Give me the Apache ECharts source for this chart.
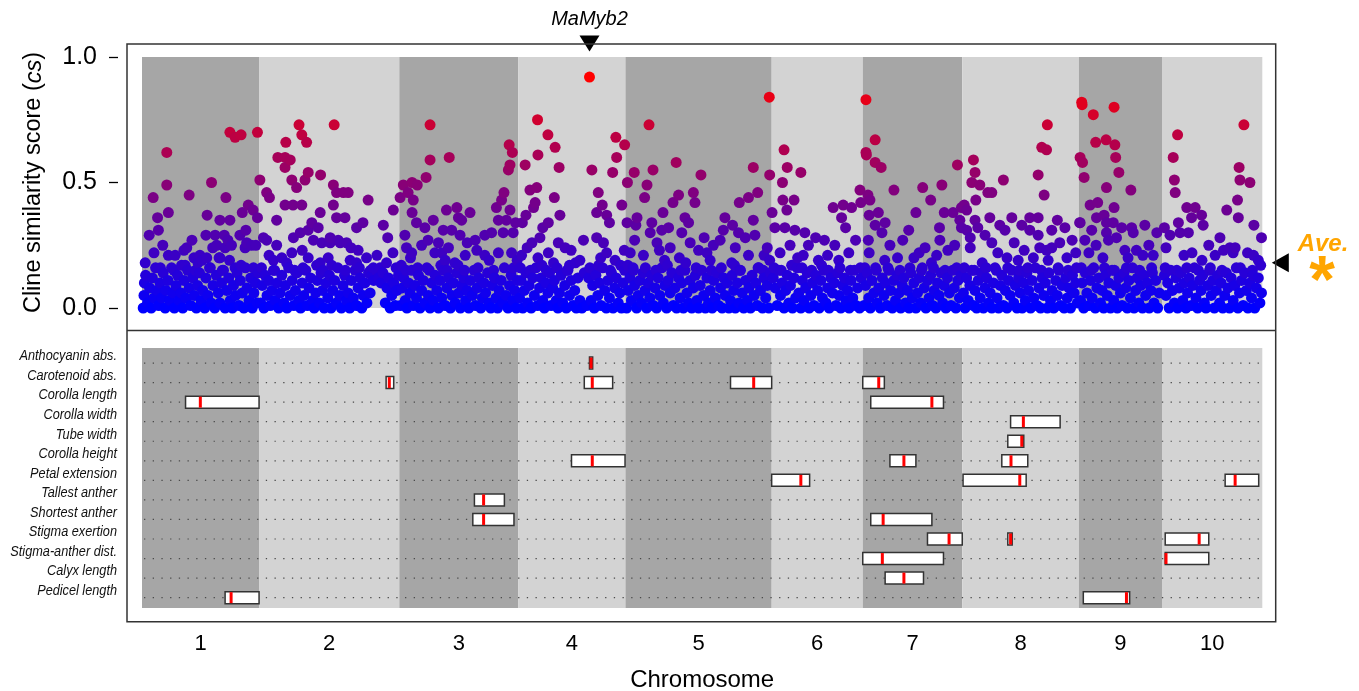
<!DOCTYPE html>
<html>
<head>
<meta charset="utf-8">
<script src="https://cdn.jsdelivr.net/npm/echarts@6/dist/echarts.min.js"></script>
<style>
  html, body { margin: 0; padding: 0; background: #fff; }
  #chart { width: 1359px; height: 691px; }
</style>
</head>
<body>
<div id="chart"></div>
<script>
// ---- Data ---------------------------------------------------------------
const chromosomes = ['1', '2', '3', '4', '5', '6', '7', '8', '9', '10'];
const chromLengthMb = [29.3, 35.1, 29.8, 26.8, 36.6, 22.8, 24.9, 29.2, 20.8, 25.1];

// Cline similarity score per marker: [position within chromosome (Mb), cs]
const chr1Scores = [
  [6.2,.62],[22,.70],[23.3,.68],[24.8,.69],[28.9,.70],[6.2,.49],[2.8,.44],[11.8,.45],[17.4,.50],[21,.44],
  [3.9,.36],[6.6,.38],[4.1,.31],[1.8,.29],[5.2,.25],[16.3,.37],[19.5,.35],[22,.35],[25.1,.38],[26.6,.41],
  [27.8,.39],[28.9,.36],[16,.29],[18.3,.29],[20.6,.29],[24.5,.29],[11.2,.24],[6.6,.21],[8.3,.21],[14.5,.21],
  [18.7,.25],[22.4,.25],[25.8,.24],[27.4,.25],[19.3,.20],[9.9,.17],[14,.18],[16.2,.20],[23.3,.16],[28.5,.25],
  [12.5,.27],[26,.31],[21.5,.27],[3,.22],[10.5,.23],[26.2,.26],[19.5,.20],[17.7,.24],[13,.20],[20.8,.24],
  [0.8,.18],[4.6,.16],[8.0,.15],[10.8,.17],[13.4,.15],[15.0,.19],[17.1,.16],[20.1,.15],[21.9,.19],[24.8,.17],
  [27.9,.16],
  [0.3,.00],[0.5,.05],[0.6,.10],[0.9,.13],[1.4,.02],[1.9,.08],[2.3,.00],[2.6,.12],[3.0,.04],[3.4,.16],
  [3.7,.07],[4.2,.01],[4.5,.10],[4.9,.04],[5.3,.14],[5.8,.00],[6.0,.07],[6.5,.11],[6.9,.03],[7.4,.16],
  [7.7,.06],[8.1,.00],[8.5,.09],[8.9,.13],[9.3,.03],[9.8,.06],[10.2,.00],[10.5,.11],[11.0,.04],[11.4,.15],
  [11.8,.08],[12.2,.01],[12.7,.12],[13.1,.05],[13.6,.00],[13.9,.09],[14.4,.14],[14.8,.03],[15.2,.07],[15.7,.00],
  [16.0,.12],[16.5,.05],[16.9,.16],[17.3,.02],[17.8,.09],[18.2,.00],[18.6,.13],[19.1,.06],[19.5,.02],[19.9,.10],
  [20.4,.15],[20.8,.00],[21.2,.07],[21.7,.12],[22.1,.03],[22.6,.00],[22.9,.09],[23.4,.05],[23.8,.14],[24.3,.01],
  [24.6,.11],[25.1,.06],[25.5,.00],[25.9,.16],[26.3,.08],[26.8,.03],[27.2,.12],[27.6,.00],[28.0,.06],[28.4,.10],
  [28.8,.02],[29.1,.14]
];
const chr2Scores = [
  [10,.73],[18.8,.73],[10.7,.69],[11.9,.66],[6.7,.66],[4.7,.60],[6.5,.60],[7.8,.59],[6.5,.56],[8.2,.51],
  [11.5,.51],[12.3,.54],[15.4,.53],[0.2,.51],[1.9,.46],[2.6,.44],[4.4,.35],[6.5,.41],[8.5,.41],[10.7,.41],
  [9.4,.48],[18.6,.49],[19.4,.46],[21.1,.46],[22.3,.46],[18.6,.41],[27.3,.43],[15.3,.38],[13.2,.34],[14.8,.32],
  [12.3,.31],[19.4,.36],[21.5,.36],[24.4,.32],[26,.34],[31.1,.33],[32.2,.28],[8.6,.28],[10.3,.30],[13.6,.27],
  [15.7,.26],[17.8,.26],[19.8,.27],[21.9,.26],[24.8,.23],[26.9,.20],[4.4,.25],[1.9,.27],[1.1,.28],[8.2,.22],
  [5.7,.20],[3.6,.19],[28.6,.16],[30.3,.16],[31.9,.18],[12.3,.20],[15.3,.18],[17.3,.20],[22.8,.19],[24.4,.18],
  [33.6,.39],[17.8,.28],[20.3,.26],[23,.24],[29.5,.21],[33.5,.22],[2.5,.21],[10.8,.23],
  [0.6,.16],[3.9,.15],[6.9,.18],[8.9,.15],[11.0,.16],[14.4,.17],[16.1,.15],[18.2,.17],[21.6,.15],[25.1,.16],
  [27.9,.15],[34.3,.16],
  [0.4,.02],[0.8,.09],[1.2,.00],[1.5,.13],[2.0,.05],[2.4,.11],[2.8,.01],[3.2,.07],[3.6,.15],[4.0,.03],
  [4.5,.10],[4.9,.00],[5.3,.06],[5.7,.13],[6.2,.02],[6.6,.09],[7.0,.00],[7.4,.16],[7.8,.05],[8.3,.11],
  [8.7,.01],[9.1,.07],[9.5,.14],[10.0,.03],[10.4,.00],[10.8,.10],[11.2,.05],[11.7,.15],[12.1,.01],[12.5,.08],
  [12.9,.12],[13.4,.03],[13.8,.00],[14.2,.06],[14.6,.11],[15.1,.02],[15.5,.14],[15.9,.07],[16.3,.00],[16.8,.10],
  [17.2,.04],[17.6,.13],[18.0,.00],[18.5,.07],[18.9,.11],[19.3,.02],[19.7,.16],[20.2,.05],[20.6,.00],[21.0,.09],
  [21.4,.13],[21.9,.03],[22.3,.06],[22.7,.00],[23.1,.11],[23.6,.04],[24.0,.15],[24.4,.01],[24.8,.08],[25.3,.12],
  [25.7,.00],[26.1,.05],[26.5,.10],[27.0,.02],[27.4,.14],[27.8,.06],[28.2,.13],[28.7,.11],[29.3,.15],[29.9,.12],
  [30.5,.10],[31.0,.14],[31.6,.02],[32.0,.08],[32.4,.12],[32.8,.00],[33.2,.05],[33.7,.10],[34.1,.01],[34.5,.07],
  [34.9,.13]
];
const chr3Scores = [
  [7.7,.73],[12.5,.60],[7.7,.59],[6.7,.52],[3.2,.50],[4.5,.49],[1,.49],[2.2,.46],[0.2,.44],[3.5,.43],
  [3.2,.38],[8.5,.35],[4.3,.34],[6.4,.32],[11.8,.39],[14.4,.40],[11,.31],[13.1,.31],[14.8,.36],[17.7,.38],
  [15.6,.35],[15.2,.29],[27.5,.65],[28.3,.62],[27.7,.57],[27.3,.55],[26.2,.46],[25.6,.43],[24.3,.40],[27.7,.39],
  [24.8,.35],[26.8,.35],[29.1,.34],[26,.30],[28.5,.30],[21.4,.29],[23.1,.30],[19.4,.23],[21.4,.21],[24.8,.22],
  [28.1,.22],[7.2,.27],[5.6,.25],[1.4,.29],[1.8,.24],[3.1,.22],[8.9,.22],[10.6,.22],[12.3,.24],[13.9,.18],
  [17,.26],[19,.27],[2.8,.20],[11.5,.19],[22.5,.19],[16.5,.21],[9.8,.26],
  [0.5,.17],[1.7,.15],[4.6,.16],[7.5,.15],[10.4,.17],[12.0,.15],[14.7,.17],[16.3,.15],[19.7,.16],[23.6,.15],
  [28.6,.16],[29.5,.19],
  [0.3,.01],[0.7,.08],[1.1,.12],[1.5,.03],[1.9,.00],[2.3,.10],[2.7,.06],[3.1,.15],[3.5,.01],[3.9,.09],
  [4.3,.04],[4.8,.13],[5.2,.00],[5.6,.07],[6.0,.11],[6.4,.02],[6.9,.16],[7.3,.05],[7.7,.00],[8.1,.10],
  [8.5,.03],[9.0,.13],[9.4,.07],[9.8,.00],[10.2,.11],[10.6,.04],[11.1,.15],[11.5,.01],[11.9,.08],[12.3,.12],
  [12.8,.00],[13.2,.05],[13.6,.10],[14.0,.02],[14.4,.14],[14.9,.06],[15.3,.00],[15.7,.09],[16.1,.12],[16.6,.03],
  [17.0,.07],[17.4,.00],[17.8,.11],[18.3,.05],[18.7,.15],[19.1,.01],[19.5,.08],[19.9,.12],[20.4,.00],[20.8,.04],
  [21.2,.10],[21.6,.06],[22.1,.14],[22.5,.02],[22.9,.00],[23.3,.09],[23.8,.12],[24.2,.04],[24.6,.00],[25.0,.07],
  [25.5,.11],[25.9,.02],[26.3,.16],[26.7,.05],[27.2,.00],[27.6,.09],[28.0,.13],[28.4,.03],[28.9,.07],[29.3,.00],
  [29.6,.11]
];
const chr4Scores = [
  [17.8,.92],[4.8,.75],[7.4,.69],[9.2,.64],[4.9,.61],[1.7,.57],[10.2,.56],[24.4,.68],[26.6,.65],[24.6,.60],
  [18.4,.55],[23.6,.54],[2.9,.47],[4.6,.48],[4.2,.42],[3.8,.40],[9,.44],[10.4,.37],[1.9,.37],[1,.34],
  [6.1,.32],[7.5,.34],[20,.46],[21,.41],[19.6,.38],[22.1,.37],[22.8,.34],[25.9,.41],[16.3,.27],[19.6,.28],
  [21.3,.26],[3.4,.26],[5.4,.28],[7.5,.22],[10,.26],[11.7,.24],[4.9,.20],[15.4,.19],[17.9,.16],[22.1,.22],
  [24.2,.19],[26.5,.23],[13.2,.23],[8.8,.18],[0.8,.21],[12.8,.17],[2.2,.24],[20.6,.20],
  [0.5,.16],[3.0,.15],[5.9,.17],[7.0,.15],[9.7,.16],[12.2,.15],[14.3,.18],[18.9,.15],[20.1,.17],[23.0,.15],
  [25.6,.17],
  [0.3,.04],[0.7,.11],[1.1,.00],[1.5,.07],[1.9,.14],[2.3,.02],[2.7,.09],[3.2,.00],[3.6,.12],[4.0,.05],
  [4.4,.16],[4.8,.01],[5.3,.08],[5.7,.12],[6.1,.03],[6.5,.00],[6.9,.10],[7.4,.06],[7.8,.14],[8.2,.01],
  [8.6,.08],[9.0,.11],[9.5,.03],[9.9,.00],[10.3,.06],[10.7,.13],[11.1,.02],[11.6,.09],[12.0,.00],[12.4,.15],
  [12.8,.05],[13.2,.11],[13.7,.01],[14.1,.07],[14.5,.00],[14.9,.12],[15.4,.03],[15.9,.00],[16.5,.14],[17.1,.01],
  [17.6,.12],[18.2,.03],[18.6,.09],[19.0,.00],[19.4,.13],[19.9,.05],[20.3,.10],[20.7,.01],[21.1,.16],[21.6,.07],
  [22.0,.00],[22.4,.11],[22.8,.04],[23.3,.14],[23.7,.00],[24.1,.08],[24.5,.12],[25.0,.02],[25.4,.06],[25.8,.00],
  [26.2,.10],[26.6,.15]
];
const chr5Scores = [
  [5.9,.73],[2.2,.54],[6.9,.55],[0.5,.50],[5.4,.49],[4.8,.44],[12.7,.58],[18.9,.53],[17,.46],[13.3,.45],
  [11.9,.42],[17.4,.42],[9.4,.38],[2.9,.36],[0.4,.34],[2.6,.33],[6.6,.34],[6.2,.30],[9.1,.31],[10.8,.32],
  [14.9,.36],[15.8,.34],[14.1,.30],[19.7,.28],[2.3,.27],[7.9,.26],[11.2,.24],[16.2,.26],[18.3,.23],[36,.84],
  [32,.56],[36.1,.53],[33.1,.46],[30.8,.44],[28.5,.42],[32,.35],[24.9,.36],[26.8,.33],[24.5,.31],[23.7,.27],
  [28.3,.30],[30,.28],[32.4,.29],[20.4,.22],[30.8,.21],[34.7,.21],[26.6,.18],[22,.25],[13.5,.20],[4.5,.21],
  [9.8,.19],[35.5,.24],[21.2,.19],[1.2,.22],[8.5,.23],[27.5,.24],
  [0.6,.17],[2.0,.15],[5.0,.16],[7.6,.15],[10.5,.17],[13.9,.15],[15.1,.18],[17.7,.16],[21.5,.15],[24.0,.16],
  [27.3,.17],[28.6,.15],[33.2,.16],[34.5,.15],[36.1,.19],
  [0.3,.00],[0.7,.07],[1.1,.12],[1.5,.03],[1.9,.16],[2.3,.09],[2.8,.00],[3.2,.05],[3.6,.11],[4.0,.02],
  [4.4,.14],[4.9,.07],[5.3,.00],[5.7,.10],[6.1,.04],[6.5,.13],[7.0,.01],[7.4,.08],[7.8,.00],[8.2,.12],
  [8.6,.05],[9.1,.16],[9.5,.02],[9.9,.09],[10.3,.00],[10.7,.11],[11.2,.06],[11.6,.14],[12.0,.01],[12.4,.08],
  [12.8,.00],[13.3,.12],[13.7,.04],[14.1,.10],[14.5,.00],[14.9,.15],[15.4,.06],[15.8,.02],[16.2,.11],[16.6,.00],
  [17.0,.08],[17.5,.13],[17.9,.03],[18.3,.00],[18.7,.09],[19.1,.15],[19.6,.05],[20.0,.00],[20.4,.12],[20.8,.02],
  [21.2,.07],[21.7,.00],[22.1,.11],[22.5,.04],[22.9,.14],[23.3,.01],[23.8,.08],[24.2,.00],[24.6,.12],[25.0,.05],
  [25.4,.10],[25.9,.00],[26.3,.03],[26.7,.13],[27.1,.07],[27.5,.00],[28.0,.10],[28.4,.02],[28.8,.15],[29.2,.06],
  [29.6,.00],[30.1,.11],[30.5,.03],[30.9,.08],[31.3,.00],[31.7,.13],[32.2,.05],[32.6,.10],[33.0,.01],[33.4,.16],
  [33.8,.07],[34.3,.00],[34.7,.12],[35.1,.04],[35.5,.09],[35.9,.00],[36.3,.14]
];
const chr6Scores = [
  [3.1,.63],[3.9,.56],[7.3,.54],[2.7,.50],[2.8,.43],[5.6,.43],[3.8,.39],[0.1,.38],[0.8,.32],[3.3,.32],
  [5.8,.31],[8.3,.30],[15.4,.40],[17.9,.41],[20,.40],[17.5,.36],[18.5,.32],[15.8,.25],[4.6,.25],[9.2,.25],
  [11.7,.19],[7.9,.21],[2.1,.22],[22.1,.47],[22.3,.42],[13.2,.27],[19.3,.22],[21,.27],[11,.28],[14,.21],
  [6.5,.20],[16.8,.19],
  [0.6,.16],[2.4,.15],[5.0,.17],[7.6,.16],[10.0,.15],[12.5,.17],[14.2,.15],[17.1,.16],[19.7,.15],[22.2,.16],
  [0.4,.12],[0.9,.08],[1.4,.01],[1.8,.15],[2.2,.05],[2.6,.10],[3.1,.00],[3.5,.07],[3.9,.13],[4.3,.02],
  [4.7,.09],[5.2,.00],[5.6,.12],[6.0,.04],[6.4,.16],[6.8,.06],[7.3,.00],[7.7,.11],[8.1,.03],[8.5,.08],
  [8.9,.14],[9.4,.00],[9.8,.05],[10.2,.10],[10.6,.01],[11.0,.13],[11.5,.07],[11.9,.00],[12.3,.11],[12.7,.04],
  [13.1,.15],[13.6,.02],[14.0,.08],[14.4,.00],[14.8,.12],[15.2,.06],[15.7,.10],[16.1,.01],[16.5,.14],[16.9,.05],
  [17.3,.00],[17.8,.09],[18.2,.12],[18.6,.03],[19.0,.07],[19.4,.00],[19.9,.11],[20.3,.04],[20.7,.15],[21.1,.01],
  [21.5,.08],[22.0,.00],[22.4,.12]
];
const chr7Scores = [
  [0.8,.83],[3.1,.67],[0.8,.62],[0.9,.61],[3.1,.58],[4.6,.56],[1.3,.45],[1.8,.43],[7.8,.47],[1.6,.37],
  [3.9,.38],[5.6,.34],[3.1,.33],[4.8,.30],[1.4,.27],[1.6,.22],[23.7,.57],[15,.48],[17,.43],[19.8,.49],
  [13.3,.38],[20.4,.38],[22.6,.38],[24.7,.40],[19.2,.32],[24.3,.35],[24.7,.32],[19.3,.27],[15.6,.24],[12.8,.20],
  [18.5,.21],[21.3,.23],[6.8,.25],[10,.27],[8.7,.20],[11.5,.31],[23,.25],[14.1,.22],[5.5,.19],[17.2,.18],
  [0.5,.16],[3.4,.15],[6.3,.16],[9.3,.15],[11.8,.16],[14.7,.15],[17.7,.16],[20.6,.15],[23.5,.16],
  [0.3,.01],[0.7,.09],[1.1,.14],[1.5,.04],[1.9,.00],[2.3,.11],[2.8,.06],[3.2,.16],[3.6,.02],[4.0,.08],
  [4.4,.00],[4.9,.12],[5.3,.05],[5.7,.10],[6.1,.01],[6.5,.15],[7.0,.07],[7.4,.00],[7.8,.11],[8.2,.03],
  [8.6,.13],[9.1,.06],[9.5,.00],[9.9,.09],[10.3,.12],[10.7,.02],[11.2,.07],[11.6,.00],[12.0,.14],[12.4,.04],
  [12.8,.10],[13.3,.00],[13.7,.06],[14.1,.12],[14.5,.02],[14.9,.16],[15.4,.08],[15.8,.00],[16.2,.11],[16.6,.04],
  [17.0,.13],[17.5,.01],[17.9,.07],[18.3,.00],[18.7,.10],[19.1,.05],[19.6,.14],[20.0,.02],[20.4,.09],[20.8,.00],
  [21.2,.12],[21.7,.06],[22.1,.01],[22.5,.15],[22.9,.08],[23.3,.00],[23.8,.11],[24.2,.04],[24.6,.13]
];
const chr8Scores = [
  [2.8,.59],[3.2,.54],[2.4,.50],[4.4,.49],[6.4,.46],[7.4,.46],[3.4,.43],[10.3,.51],[0.5,.41],[1.1,.39],
  [1.1,.31],[3.2,.35],[3.9,.32],[6.9,.36],[9.4,.33],[10.7,.31],[12.4,.36],[14.9,.33],[16.9,.36],[19,.36],
  [16.9,.31],[5.7,.29],[7.4,.26],[2,.28],[2,.24],[19,.53],[20.5,.45],[21.3,.73],[19.9,.64],[21.1,.63],
  [23.8,.35],[25.7,.32],[22.4,.31],[19,.29],[22.4,.24],[24.4,.26],[21.1,.23],[19.4,.24],[13,.26],[15.5,.23],
  [8.9,.22],[11.2,.20],[27.5,.27],[28.4,.22],[17.8,.20],[5,.18],[26.2,.20],[14,.19],
  [0.5,.16],[3.0,.15],[6.0,.16],[8.5,.15],[11.4,.16],[14.3,.15],[16.4,.16],[19.8,.15],[21.5,.19],[24.0,.16],
  [26.5,.15],[28.6,.16],
  [0.3,.06],[0.7,.00],[1.1,.12],[1.5,.03],[1.9,.09],[2.4,.15],[2.8,.01],[3.2,.07],[3.6,.00],[4.0,.11],
  [4.5,.04],[4.9,.14],[5.3,.00],[5.7,.08],[6.1,.12],[6.6,.02],[7.0,.06],[7.4,.00],[7.8,.10],[8.2,.16],
  [8.7,.04],[9.1,.00],[9.5,.09],[9.9,.13],[10.3,.01],[10.8,.07],[11.2,.00],[11.6,.11],[12.0,.05],[12.4,.15],
  [12.9,.02],[13.3,.09],[13.7,.00],[14.1,.12],[14.5,.06],[15.0,.00],[15.4,.10],[15.8,.03],[16.2,.14],[16.6,.07],
  [17.1,.00],[17.5,.11],[17.9,.04],[18.3,.16],[18.7,.01],[19.2,.08],[19.6,.00],[20.0,.12],[20.4,.05],[20.8,.10],
  [21.3,.00],[21.7,.14],[22.1,.03],[22.5,.07],[22.9,.00],[23.4,.11],[23.8,.05],[24.2,.15],[24.6,.01],[25.0,.09],
  [25.5,.00],[25.9,.12],[26.3,.04],[26.7,.08],[27.1,.00],[27.6,.13],[28.0,.06],[28.4,.10],[28.8,.02]
];
const chr9Scores = [
  [0.7,.82],[0.8,.81],[3.6,.77],[8.8,.80],[4.2,.66],[6.8,.67],[9,.65],[0.3,.60],[0.9,.58],[9.2,.60],
  [10,.54],[1.3,.52],[6.9,.48],[13,.47],[2.8,.41],[4.7,.42],[8.8,.40],[4.4,.36],[6.3,.37],[6.9,.34],
  [8.6,.34],[10.7,.32],[0.3,.34],[3.2,.31],[6.9,.30],[13.6,.30],[16.5,.33],[13.2,.32],[9.4,.28],[1.5,.27],
  [4.3,.25],[7.4,.27],[18.6,.21],[14.4,.23],[16,.21],[11.5,.23],[2.5,.22],[6,.20],[19.5,.30],[12.3,.20],
  [0.2,.34],[17.5,.25],
  [0.6,.16],[3.1,.15],[6.4,.16],[8.9,.15],[11.9,.16],[15.2,.15],[18.2,.16],
  [0.4,.03],[0.8,.10],[1.2,.00],[1.6,.14],[2.0,.06],[2.5,.01],[2.9,.11],[3.3,.04],[3.7,.16],[4.1,.00],
  [4.5,.08],[5.0,.12],[5.4,.02],[5.8,.07],[6.2,.00],[6.6,.13],[7.1,.05],[7.5,.10],[7.9,.00],[8.3,.15],
  [8.7,.03],[9.2,.09],[9.6,.00],[10.0,.12],[10.4,.06],[10.8,.01],[11.3,.14],[11.7,.08],[12.1,.00],[12.5,.11],
  [12.9,.04],[13.4,.16],[13.8,.00],[14.2,.07],[14.6,.12],[15.0,.02],[15.5,.09],[15.9,.00],[16.3,.13],[16.7,.05],
  [17.1,.10],[17.6,.00],[18.0,.07],[18.4,.14],[18.8,.02],[19.2,.11],[19.7,.00],[20.1,.06]
];
const chr10Scores = [
  [3.9,.69],[20.5,.73],[2.8,.60],[3.1,.51],[3.3,.46],[19.3,.56],[19.5,.51],[22,.50],[18.9,.43],[16.2,.39],
  [19.1,.36],[23,.33],[24.9,.28],[6.2,.40],[8.3,.40],[9.9,.37],[7.4,.36],[10.3,.33],[4.1,.34],[6.6,.30],
  [0.6,.32],[2,.29],[4.5,.30],[17,.24],[18.3,.24],[15.4,.23],[17.8,.22],[21.4,.22],[22.9,.21],[24.1,.19],
  [11.7,.25],[13.3,.21],[7.5,.22],[1,.24],[14.5,.28],[5.5,.21],[10,.19],
  [0.8,.16],[3.7,.15],[6.2,.16],[9.1,.15],[12.1,.16],[15.0,.15],[19.6,.16],[22.6,.15],[24.7,.17],
  [0.6,.13],[1.0,.05],[1.4,.10],[1.8,.00],[2.2,.15],[2.6,.07],[3.1,.02],[3.5,.12],[3.9,.00],[4.3,.08],
  [4.7,.14],[5.2,.03],[5.6,.10],[6.0,.00],[6.4,.06],[6.8,.12],[7.3,.01],[7.7,.09],[8.1,.16],[8.5,.04],
  [8.9,.00],[9.4,.11],[9.8,.07],[10.2,.13],[10.6,.02],[11.0,.00],[11.5,.09],[11.9,.15],[12.3,.05],[12.7,.11],
  [13.1,.00],[13.6,.07],[14.0,.13],[14.4,.02],[14.8,.10],[15.2,.00],[15.7,.05],[16.1,.14],[16.5,.08],[16.9,.00],
  [17.3,.12],[17.8,.03],[18.2,.09],[18.6,.16],[19.0,.00],[19.4,.06],[19.9,.11],[20.3,.01],[20.7,.14],[21.1,.07],
  [21.5,.00],[22.0,.10],[22.4,.04],[22.8,.13],[23.2,.00],[23.6,.08],[24.1,.12],[24.5,.02],[24.9,.06]
];

// Phenotypic traits (rows of the QTL panel, top to bottom)
const traits = [
  'Anthocyanin abs.', 'Carotenoid abs.', 'Corolla length', 'Corolla width', 'Tube width',
  'Corolla height', 'Petal extension', 'Tallest anther', 'Shortest anther', 'Stigma exertion',
  'Stigma-anther dist.', 'Calyx length', 'Pedicel length'
];
// QTL intervals: [trait, chromosome, start (Mb), end (Mb), peak (Mb)]
const qtlIntervals = [
  ['Anthocyanin abs.', 4, 17.8, 18.6, 18.2],
  ['Carotenoid abs.', 2, 31.8, 33.7, 32.6],
  ['Carotenoid abs.', 4, 16.5, 23.6, 18.5],
  ['Carotenoid abs.', 5, 26.3, 36.6, 32.1],
  ['Carotenoid abs.', 7, 0.0, 5.4, 4.0],
  ['Corolla length', 1, 10.9, 29.3, 14.6],
  ['Corolla length', 7, 2.0, 20.2, 17.3],
  ['Corolla width', 8, 12.1, 24.5, 15.3],
  ['Tube width', 8, 11.4, 15.4, 14.9],
  ['Corolla height', 4, 13.3, 26.7, 18.5],
  ['Corolla height', 7, 6.8, 13.3, 10.3],
  ['Corolla height', 8, 9.9, 16.4, 12.2],
  ['Petal extension', 6, 0.0, 9.5, 7.3],
  ['Petal extension', 8, 0.2, 16.0, 14.4],
  ['Petal extension', 10, 15.8, 24.2, 18.3],
  ['Tallest anther', 3, 18.8, 26.3, 21.1],
  ['Shortest anther', 3, 18.4, 28.7, 21.1],
  ['Shortest anther', 7, 2.0, 17.3, 5.1],
  ['Stigma exertion', 7, 16.2, 24.9, 21.6],
  ['Stigma exertion', 8, 11.4, 12.5, 12.1],
  ['Stigma exertion', 10, 0.8, 11.7, 9.3],
  ['Stigma-anther dist.', 7, 0.0, 20.2, 4.9],
  ['Stigma-anther dist.', 10, 0.8, 11.7, 1.0],
  ['Calyx length', 7, 5.6, 15.2, 10.3],
  ['Pedicel length', 1, 20.8, 29.3, 22.3],
  ['Pedicel length', 9, 1.1, 12.7, 11.9]
];

const candidateGene = { name: 'MaMyb2', chrom: 4, pos: 17.8 };
const averageCs = 0.18;

// ---- Genome coordinates -------------------------------------------------
const chromScores = [chr1Scores, chr2Scores, chr3Scores, chr4Scores, chr5Scores,
                     chr6Scores, chr7Scores, chr8Scores, chr9Scores, chr10Scores];
const chromOffset = [];
let acc = 0;
chromLengthMb.forEach(len => { chromOffset.push(acc); acc += len; });
const genomeLength = acc;
const chromCenters = chromLengthMb.map((len, i) => chromOffset[i] + len / 2);
const genomePos = (chrom, pos) => chromOffset[chrom - 1] + pos;

// markers are plotted in genome order
const scorePoints = [];
chromScores.forEach((list, c) => list.forEach(([pos, cs]) => scorePoints.push([chromOffset[c] + pos, cs])));
scorePoints.sort((a, b) => a[0] - b[0]);

const bandData = chromLengthMb.map((len, i) => [chromOffset[i], chromOffset[i] + len, i]);
const qtlData = qtlIntervals.map(([t, c, s, e, p]) =>
  [traits.indexOf(t) + 1, genomePos(c, s), genomePos(c, e), genomePos(c, p)]);
const rowData = traits.map((t, i) => [i + 1]);

// ---- Styles -------------------------------------------------------------
const FONT = "'Liberation Sans', Arial, Helvetica, sans-serif";
const BAND_DARK = '#a6a6a6';
const BAND_LIGHT = '#d3d3d3';
const ORANGE = '#ffa500';
const ROW_MIN = 0.23, ROW_MAX = 13.53;

function bandRenderer(yLow, yHigh) {
  return function (params, api) {
    const a = api.coord([api.value(0), yHigh]);
    const b = api.coord([api.value(1), yLow]);
    return {
      type: 'rect',
      shape: { x: a[0], y: Math.min(a[1], b[1]), width: b[0] - a[0], height: Math.abs(b[1] - a[1]) },
      style: { fill: api.value(2) % 2 === 0 ? BAND_DARK : BAND_LIGHT }
    };
  };
}

const chart = echarts.init(document.getElementById('chart'), null, { renderer: 'canvas' });

chart.setOption({
  animation: false,
  backgroundColor: '#fff',
  textStyle: { fontFamily: FONT },
  grid: [
    { left: 142, right: 96.7, top: 57, height: 251, outerBoundsMode: 'none' },
    { left: 142, right: 96.7, top: 348, height: 260, outerBoundsMode: 'none' },
    // carries the score axis, set off to the left of the panel frame
    { left: 118, width: 1, top: 57, height: 251, outerBoundsMode: 'none' }
  ],
  xAxis: [
    { gridIndex: 0, type: 'value', min: 0, max: genomeLength, show: false },
    {
      gridIndex: 1, type: 'value', min: 0, max: genomeLength,
      axisLine: { show: false }, axisTick: { show: false }, splitLine: { show: false },
      axisLabel: {
        customValues: chromCenters,
        formatter: v => chromosomes[chromCenters.findIndex(c => Math.abs(c - v) < 1e-6)],
        fontSize: 22, color: '#000', margin: 25, fontFamily: FONT
      },
      name: 'Chromosome', nameLocation: 'middle', nameGap: 60,
      nameTextStyle: { fontSize: 24, color: '#000', fontFamily: FONT }
    },
    { gridIndex: 2, type: 'value', min: 0, max: 1, show: false }
  ],
  yAxis: [
    { gridIndex: 0, type: 'value', min: 0, max: 1, show: false },
    {
      gridIndex: 1, type: 'value', inverse: true, min: ROW_MIN, max: ROW_MAX, show: false
    },
    {
      gridIndex: 2, type: 'value', min: 0, max: 1, interval: 0.5,
      axisLine: { show: false },
      axisTick: { show: true, length: 9, lineStyle: { color: '#000', width: 1.3 } },
      axisLabel: { formatter: v => v.toFixed(1), fontSize: 25, color: '#000', margin: 21, fontFamily: FONT },
      splitLine: { show: false },
      name: 'Cline similarity score ({i|cs})', nameLocation: 'middle', nameGap: 72, nameRotate: 90,
      nameTextStyle: {
        fontSize: 23.5, color: '#000', fontFamily: FONT,
        rich: { i: { fontSize: 23.5, fontStyle: 'italic', color: '#000', fontFamily: FONT } }
      }
    }
  ],
  visualMap: {
    type: 'continuous', show: false, seriesIndex: 1, dimension: 1,
    min: 0, max: 0.92, inRange: { color: ['#0000ff', '#ff0000'] }
  },
  series: [
    {
      // chromosome bands, score panel
      type: 'custom', xAxisIndex: 0, yAxisIndex: 0, silent: true, z: 1,
      data: bandData, renderItem: bandRenderer(0, 1)
    },
    {
      type: 'scatter', xAxisIndex: 0, yAxisIndex: 0, z: 3, clip: false,
      symbol: 'circle', symbolSize: 11, large: false, progressive: 0,
      itemStyle: { opacity: 1 },
      data: scorePoints
    },
    {
      // candidate gene and average markers
      type: 'scatter', xAxisIndex: 0, yAxisIndex: 0, z: 4, clip: false, silent: true,
      itemStyle: { opacity: 1, color: '#000' },
      data: [
        {
          value: [genomePos(candidateGene.chrom, candidateGene.pos), 1],
          symbol: 'triangle', symbolRotate: 180, symbolSize: [20, 16], symbolOffset: [0, -13.5],
          label: {
            show: true, position: 'top', distance: 6, formatter: candidateGene.name,
            fontSize: 20, fontStyle: 'italic', color: '#000', fontFamily: FONT
          }
        },
        {
          value: [genomeLength, averageCs],
          symbol: 'triangle', symbolRotate: 90, symbolSize: [19, 17], symbolOffset: [18, 0]
        }
      ]
    },
    {
      // chromosome bands, QTL panel
      type: 'custom', xAxisIndex: 1, yAxisIndex: 1, silent: true, z: 1,
      data: bandData, renderItem: bandRenderer(ROW_MIN, ROW_MAX)
    },
    {
      // dotted guide line and name per trait
      type: 'custom', xAxisIndex: 1, yAxisIndex: 1, silent: true, z: 2, clip: false,
      data: rowData,
      renderItem: (params, api) => {
        const row = api.value(0);
        const a = api.coord([0, row]);
        const b = api.coord([genomeLength, row]);
        return {
          type: 'group',
          children: [
            {
              type: 'line',
              shape: { x1: a[0] + 2, y1: a[1], x2: b[0], y2: b[1] },
              style: { stroke: '#4a4a4a', lineWidth: 1.2, lineDash: [1.3, 7.4] }
            },
            {
              type: 'text', x: a[0] - 25, y: a[1] + 1, scaleX: 0.82,
              style: {
                text: traits[row - 1], x: 0, y: 0, align: 'right', verticalAlign: 'bottom',
                font: 'italic 15.5px ' + FONT, fill: '#111'
              }
            }
          ]
        };
      }
    },
    {
      // QTL intervals with peak position
      type: 'custom', xAxisIndex: 1, yAxisIndex: 1, silent: true, z: 3,
      data: qtlData,
      encode: { x: [1, 2, 3], y: 0 },
      renderItem: (params, api) => {
        const row = api.value(0);
        const s = api.coord([api.value(1), row]);
        const e = api.coord([api.value(2), row]);
        const p = api.coord([api.value(3), row]);
        const h = 12;
        return {
          type: 'group',
          children: [
            {
              type: 'rect',
              shape: { x: s[0], y: s[1] - h / 2, width: Math.max(e[0] - s[0], 2), height: h },
              style: { fill: '#fff', stroke: '#333', lineWidth: 1.5 }
            },
            {
              type: 'rect',
              shape: { x: p[0] - 1.5, y: s[1] - h / 2 + 0.5, width: 3, height: h - 1 },
              style: { fill: '#ff0000' }
            }
          ]
        };
      }
    }
  ],
  graphic: [
    {
      type: 'rect', z: 10, silent: true,
      shape: { x: 127, y: 44, width: 1148.7, height: 577.7 },
      style: { fill: 'none', stroke: '#333', lineWidth: 1.5 }
    },
    {
      type: 'line', z: 10, silent: true,
      shape: { x1: 127, y1: 330.5, x2: 1275.7, y2: 330.5 },
      style: { stroke: '#333', lineWidth: 1.5 }
    },
    {
      type: 'text', z: 10, silent: true, x: 1323, y: 244,
      style: { text: 'Ave.', fill: ORANGE, font: "italic bold 24px " + FONT, align: 'center', verticalAlign: 'middle' }
    },
    {
      type: 'text', z: 10, silent: true, x: 1322, y: 284,
      style: { text: '*', fill: ORANGE, font: "bold 66px " + FONT, align: 'center', verticalAlign: 'middle' }
    }
  ]
});
</script>
</body>
</html>
